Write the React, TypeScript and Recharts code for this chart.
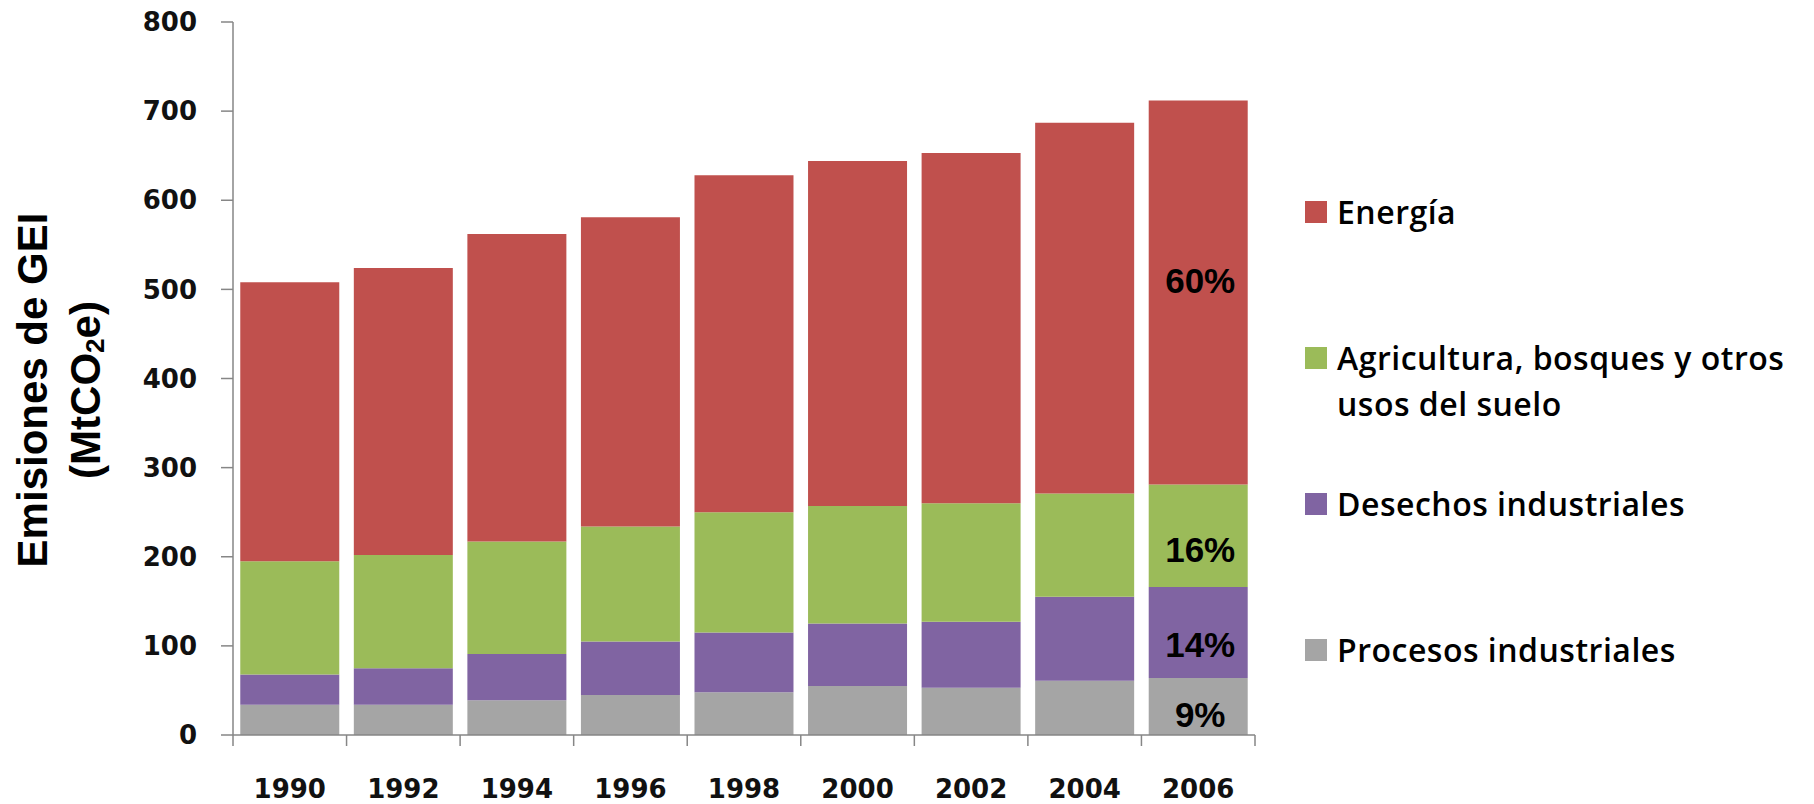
import React from 'react';
import { BarChart, Bar, XAxis, YAxis, Legend, LabelList, Label } from 'recharts';

// ---- data ----
const years = ['1990', '1992', '1994', '1996', '1998', '2000', '2002', '2004', '2006'];
const procesos = [34, 34, 39, 45, 48, 55, 53, 61, 64];
const desechos = [34, 41, 52, 60, 67, 70, 74, 94, 102];
const agricultura = [127, 127, 126, 129, 135, 132, 133, 116, 115];
const energia = [313, 322, 345, 347, 378, 387, 393, 416, 431];
const yTicks = [0, 100, 200, 300, 400, 500, 600, 700, 800];

const seriesKeys = ['procesos', 'desechos', 'agricultura', 'energia'];
const seriesNames = [
  'Procesos industriales',
  'Desechos industriales',
  'Agricultura, bosques y otros usos del suelo',
  'Energía',
];
const seriesColors = ['#A5A5A5', '#8064A2', '#9BBB59', '#C0504D'];
const pctLabels2006 = ['9%', '14%', '16%', '60%'];
const legendOrder = [3, 2, 1, 0];

const data = years.map((year, i) => ({
  year,
  procesos: procesos[i],
  desechos: desechos[i],
  agricultura: agricultura[i],
  energia: energia[i],
}));

// ---- layout ----
const W = 1814;
const H = 804;
const MARGIN = { top: 22, right: 559, bottom: 0, left: 0 };
const Y_W = 233;
const X_H = 69;
const AXIS_COLOR = '#868686';
const TICK_FONT = '"DejaVu Sans", Verdana, sans-serif';

function XTick(props: any) {
  const { x, y, payload, index } = props;
  const fallbackHalf = (W - MARGIN.left - MARGIN.right - Y_W) / years.length / 2;
  const half = payload && typeof payload.offset === 'number' && payload.offset > 0 ? payload.offset : fallbackHalf;
  const last = index === years.length - 1;
  return (
    <g>
      <line x1={x - half} x2={x - half} y1={y} y2={y + 11} stroke={AXIS_COLOR} strokeWidth={1.5} />
      {last && <line x1={x + half} x2={x + half} y1={y} y2={y + 11} stroke={AXIS_COLOR} strokeWidth={1.5} />}
      <text
        x={x}
        y={y + 54}
        textAnchor="middle"
        dominantBaseline="central"
        fontFamily={TICK_FONT}
        fontWeight="bold"
        fontSize={26}
        fill="#111"
      >
        {payload.value}
      </text>
    </g>
  );
}

function YLabel() {
  const cy = 390;
  return (
    <g fontFamily='"Liberation Sans", Arial, sans-serif' fontWeight="bold" fontSize={42} fill="#000">
      <text transform={`rotate(-90 32 ${cy})`} x={32} y={cy} textAnchor="middle" dominantBaseline="central">
        Emisiones de GEI
      </text>
      <text transform={`rotate(-90 85 ${cy})`} x={85} y={cy} textAnchor="middle" dominantBaseline="central">
        (MtCO
        <tspan fontSize={26} dy={10}>2</tspan>
        <tspan dy={-10}>e)</tspan>
      </text>
    </g>
  );
}

function LegendContent() {
  return (
    <div style={{ fontFamily: '"Open Sans", sans-serif', fontSize: 32, fontWeight: 600, letterSpacing: 0.5, color: '#000' }}>
      {legendOrder.map((i) => (
        <div key={i} style={{ display: 'flex', alignItems: 'flex-start', height: 146 }}>
          <span
            style={{
              width: 22,
              height: 22,
              background: seriesColors[i],
              marginTop: 12,
              marginRight: 10,
              flex: 'none',
              display: 'inline-block',
            }}
          />
          <span style={{ width: 465, lineHeight: '46px', whiteSpace: 'normal' }}>{seriesNames[i]}</span>
        </div>
      ))}
    </div>
  );
}

const labelDy = [8, 12, 14, -12];

function makePctLabel(seriesIdx: number) {
  return (props: any) => {
    const { x, y, width, height, index } = props;
    if (index !== years.length - 1) return null;
    return (
      <text
        x={Number(x) + Number(width) / 2 + 2}
        y={Number(y) + Number(height) / 2 + labelDy[seriesIdx]}
        textAnchor="middle"
        dominantBaseline="central"
        fontFamily='"Liberation Sans", Arial, sans-serif'
        fontWeight="bold"
        fontSize={35}
        fill="#000"
      >
        {pctLabels2006[seriesIdx]}
      </text>
    );
  };
}

export default function App() {
  return (
    <div style={{ width: W, height: H, overflow: 'hidden' }}>
      <style>{'html, body { margin: 0; padding: 0; overflow: hidden; }'}</style>
      <BarChart width={W} height={H} data={data} margin={MARGIN} barCategoryGap="6.4%">
        <XAxis
          dataKey="year"
          height={X_H}
          axisLine={{ stroke: AXIS_COLOR, strokeWidth: 1.5 }}
          tickLine={false}
          tickSize={0}
          tickMargin={0}
          interval={0}
          tick={<XTick />}
        />
        <YAxis
          width={Y_W}
          domain={[0, 800]}
          ticks={yTicks}
          interval={0}
          axisLine={{ stroke: AXIS_COLOR, strokeWidth: 1.5 }}
          tickLine={{ stroke: AXIS_COLOR, strokeWidth: 1.5 }}
          tickSize={12}
          tickMargin={24}
          tick={{ fontFamily: TICK_FONT, fontWeight: 'bold', fontSize: 26, fill: '#111' }}
        >
          <Label content={<YLabel />} />
        </YAxis>
        <Legend
          layout="vertical"
          align="center"
          verticalAlign="middle"
          content={<LegendContent />}
          wrapperStyle={{ position: 'absolute', left: 1305, top: 189, width: 509 }}
        />
        {seriesKeys.map((k, i) => (
          <Bar key={k} dataKey={k} name={seriesNames[i]} stackId="a" fill={seriesColors[i]} isAnimationActive={false}>
            <LabelList dataKey={k} content={makePctLabel(i)} />
          </Bar>
        ))}
      </BarChart>
    </div>
  );
}
